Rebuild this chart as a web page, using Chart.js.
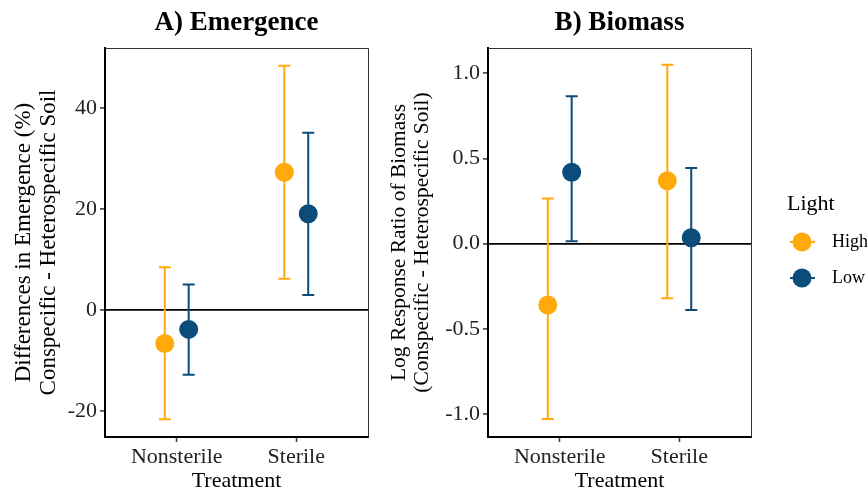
<!DOCTYPE html>
<html>
<head>
<meta charset="utf-8">
<script src="https://cdn.jsdelivr.net/npm/chart.js@4"></script>
<style>
html,body{margin:0;padding:0;background:#fff;}
#wrap{position:relative;width:867px;height:492px;overflow:hidden;}
canvas{position:absolute;top:0;}
</style>
</head>
<body>
<div id="wrap">
<canvas id="emergence" width="380" height="492" style="left:0"></canvas>
<canvas id="biomass" width="487" height="492" style="left:380px"></canvas>
</div>
<script>

const treatments = ["Nonsterile", "Sterile"]
const lightLevels = ["High", "Low"]

// A) difference in emergence (%), mean with lower / upper CI
const emergenceHigh = [-6.6, 27.3]
const emergenceHighLower = [-21.6, 6.2]
const emergenceHighUpper = [8.5, 48.4]
const emergenceLow = [-3.8, 19.1]
const emergenceLowLower = [-12.8, 3.0]
const emergenceLowUpper = [5.1, 35.1]

// B) log response ratio of biomass
const biomassHigh = [-0.36, 0.37]
const biomassHighLower = [-1.03, -0.32]
const biomassHighUpper = [0.265, 1.05]
const biomassLow = [0.42, 0.035]
const biomassLowLower = [0.015, -0.39]
const biomassLowUpper = [0.865, 0.445]

const emergenceTicks = [-20, 0, 20, 40]
const biomassTicks = [-1.0, -0.5, 0.0, 0.5, 1.0]

const colHigh = "#FFA90A"
const colLow = "#0B4C7A"
const serif = "'Liberation Serif', 'Times New Roman', serif"

/* ===== helpers ===== */

function points(means, lower, upper, dodge){
  return means.map((m,i)=>({x:i+1+dodge, y:m, yMin:lower[i], yMax:upper[i]}))
}

const errorBarPlugin = {
  id:"errorBars",
  beforeDatasetsDraw(chart){
    const {ctx} = chart
    const ys = chart.scales.y
    ctx.save()
    chart.data.datasets.forEach((ds,di)=>{
      const meta = chart.getDatasetMeta(di)
      ctx.strokeStyle = ds.backgroundColor
      ctx.lineWidth = 2
      meta.data.forEach((pt,i)=>{
        const d = ds.data[i]
        const y0 = ys.getPixelForValue(d.yMin)
        const y1 = ys.getPixelForValue(d.yMax)
        ctx.beginPath()
        ctx.moveTo(pt.x,y0); ctx.lineTo(pt.x,y1)
        ctx.moveTo(pt.x-6,y0); ctx.lineTo(pt.x+6,y0)
        ctx.moveTo(pt.x-6,y1); ctx.lineTo(pt.x+6,y1)
        ctx.stroke()
      })
    })
    ctx.restore()
  }
}

const framePlugin = {
  id:"frame",
  afterDraw(chart,args,opts){
    const {ctx, chartArea:{left,top,right,bottom}} = chart
    ctx.save()
    ctx.strokeStyle = "#333"
    ctx.lineWidth = 1
    ctx.beginPath()
    ctx.moveTo(left,top+0.5); ctx.lineTo(right+0.5,top+0.5); ctx.lineTo(right+0.5,bottom)
    ctx.stroke()
    // panel heading
    ctx.fillStyle = "#000"
    ctx.font = "bold 27px " + serif
    ctx.textAlign = "center"
    ctx.textBaseline = "middle"
    ctx.fillText(opts.heading,(left+right)/2,23)
    ctx.restore()
  }
}

const legendPlugin = {
  id:"lightLegend",
  afterDraw(chart,args,opts){
    if(!opts.show) return
    const {ctx} = chart
    ctx.save()
    ctx.fillStyle = "#000"
    ctx.textBaseline = "middle"
    ctx.font = "22px " + serif
    ctx.fillText("Light",opts.x,204)
    ctx.font = "18px " + serif
    chart.data.datasets.forEach((ds,i)=>{
      const y = 242 + i*36
      ctx.strokeStyle = ds.backgroundColor
      ctx.lineWidth = 2
      ctx.beginPath(); ctx.moveTo(opts.x+3,y); ctx.lineTo(opts.x+28,y); ctx.stroke()
      ctx.fillStyle = ds.backgroundColor
      ctx.beginPath(); ctx.arc(opts.x+15,y,9.5,0,Math.PI*2); ctx.fill()
      ctx.fillStyle = "#000"
      ctx.fillText(ds.label,opts.x+45,y)
    })
    ctx.restore()
  }
}

function makePanel(id,cfg){
  const ctx = document.getElementById(id).getContext("2d")
  return new Chart(ctx,{
    type:"scatter",
    data:{
      datasets:[
        {label:lightLevels[0], data:points(cfg.high,cfg.highLo,cfg.highHi,-0.1), backgroundColor:colHigh},
        {label:lightLevels[1], data:points(cfg.low,cfg.lowLo,cfg.lowHi,0.1), backgroundColor:colLow}
      ]
    },
    options:{
      responsive:false,
      animation:false,
      layout:{padding:{left:0,top:48,right:cfg.padRight,bottom:0}},
      elements:{point:{radius:9.5,hoverRadius:9.5,borderWidth:0}},
      plugins:{
        legend:{display:false},
        tooltip:{enabled:false},
        frame:{heading:cfg.heading},
        lightLegend:{show:!!cfg.legendX, x:cfg.legendX}
      },
      scales:{
        x:{
          type:"linear", min:0.4, max:2.6,
          afterBuildTicks(s){ s.ticks = [{value:1},{value:2}] },
          afterFit(s){ s.height = 55 },
          ticks:{
            callback:v=>treatments[v-1],
            color:"#222", padding:2, maxRotation:0,
            font:{family:serif,size:22}
          },
          grid:{drawOnChartArea:false, tickLength:5, tickColor:"#333", tickWidth:1.5},
          border:{display:true,color:"#000",width:2},
          title:{display:true,text:"Treatment",color:"#000",padding:{top:0,bottom:0},
            font:{family:serif,size:22,lineHeight:1}}
        },
        y:{
          min:cfg.yMin, max:cfg.yMax,
          afterBuildTicks(s){ s.ticks = cfg.ticks.map(v=>({value:v})) },
          afterFit(s){ s.width = cfg.axisWidth },
          ticks:{
            callback:cfg.fmt,
            color:"#222", padding:3,
            font:{family:serif,size:22}
          },
          grid:{
            color:c=>c.tick && c.tick.value===0 ? "#000" : "rgba(0,0,0,0)",
            lineWidth:1.8,
            tickLength:5, tickColor:"#333", tickWidth:1.5
          },
          border:{display:true,color:"#000",width:2},
          title:{display:true,text:cfg.yTitle,color:"#000",padding:{top:cfg.titlePad,bottom:0},
            font:{family:serif,size:cfg.titleSize,lineHeight:1.08}}
        }
      }
    },
    plugins:[errorBarPlugin,framePlugin,legendPlugin]
  })
}

/* ===== A) Emergence ===== */

makePanel("emergence",{
  heading:"A) Emergence",
  high:emergenceHigh, highLo:emergenceHighLower, highHi:emergenceHighUpper,
  low:emergenceLow, lowLo:emergenceLowLower, lowHi:emergenceLowUpper,
  yMin:-25.1, yMax:51.9, ticks:emergenceTicks, fmt:v=>String(v),
  yTitle:["Differences in Emergence (%)","Conspecific - Heterospecific Soil"],
  axisWidth:105, padRight:12, titlePad:12, titleSize:23
})

/* ===== B) Biomass ===== */

makePanel("biomass",{
  heading:"B) Biomass",
  high:biomassHigh, highLo:biomassHighLower, highHi:biomassHighUpper,
  low:biomassLow, lowLo:biomassLowLower, lowHi:biomassLowUpper,
  yMin:-1.135, yMax:1.149, ticks:biomassTicks, fmt:v=>v.toFixed(1),
  yTitle:["Log Response Ratio of Biomass","(Conspecific - Heterospecific Soil)"],
  axisWidth:108, padRight:116, titlePad:8, titleSize:21.5, legendX:407
})

</script>
</body>
</html>
